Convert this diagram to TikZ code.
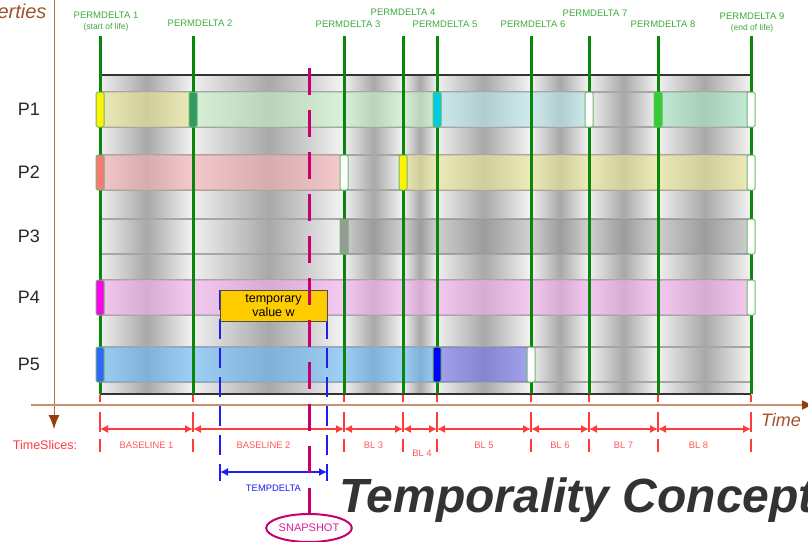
\documentclass[tikz,border=0pt]{standalone}
\usepackage{fontspec}
\setmainfont{Liberation Sans}
\usepackage{tikz}
\usetikzlibrary{calc}
\usetikzlibrary{arrows.meta}
\usetikzlibrary{shapes.geometric}
\tikzset{>=latex}

\definecolor{pdgreen}{RGB}{10,135,10}
\definecolor{pdtext}{RGB}{60,170,60}
\definecolor{markgreen}{RGB}{102,187,102}
\definecolor{slicered}{RGB}{255,60,60}
\definecolor{axistan}{RGB}{200,145,115}
\definecolor{axisbrown}{RGB}{190,110,70}
\definecolor{tipbrown}{RGB}{150,60,10}
\definecolor{labelbrown}{RGB}{160,82,45}
\definecolor{snapmag}{RGB}{200,0,110}
\definecolor{snaptext}{RGB}{215,30,150}
\definecolor{tempblue}{RGB}{30,30,240}
\definecolor{tmpgold}{RGB}{255,204,0}
\definecolor{titlegray}{RGB}{51,51,51}
% band colours
\definecolor{bkhaki}{RGB}{235,230,150}
\definecolor{bgreen}{RGB}{200,240,200}
\definecolor{bcyan}{RGB}{185,230,235}
\definecolor{bmint}{RGB}{165,230,195}
\definecolor{bpink}{RGB}{245,175,180}
\definecolor{bgray}{RGB}{130,130,130}
\definecolor{bmagenta}{RGB}{245,175,240}
\definecolor{bblue}{RGB}{100,185,245}
\definecolor{bperi}{RGB}{110,110,235}
% marker colours
\definecolor{mteal}{RGB}{51,153,102}
\definecolor{mcyan}{RGB}{0,204,230}
\definecolor{mlime}{RGB}{51,204,51}
\definecolor{msalmon}{RGB}{255,119,119}
\definecolor{mgray}{RGB}{153,153,153}
\definecolor{mmagenta}{RGB}{255,0,238}
\definecolor{mblue}{RGB}{51,102,255}
\definecolor{mdeep}{RGB}{0,0,255}

\tikzset{
  pdline/.style={pdgreen, line width=3pt},
  pdlabel/.style={text=pdtext, font=\fontsize{9.5}{11.5}\selectfont, align=center, inner sep=0pt},
  rowline/.style={gray!70, line width=1.2pt},
  band/.style={fill=#1, fill opacity=.6},
  marker/.style={draw=markgreen, line width=1pt, rounded corners=1.5pt, fill=#1,
    minimum width=8pt, minimum height=35pt, inner sep=0pt},
  proplabel/.style={text=black!85, font=\fontsize{18}{20}\selectfont},
  slicetick/.style={slicered, line width=1.2pt, dash pattern=on 7pt off 10pt on 20pt off 7pt on 13pt off 20pt},
  slicearrow/.style={slicered, line width=1.2pt, {Latex[length=8pt,width=8pt]}-{Latex[length=8pt,width=8pt]}},
  slicelabel/.style={text=slicered!85, font=\fontsize{9.4}{11}\selectfont},
  tempbox/.style={draw=black!70, line width=1pt, fill=tmpgold, minimum width=107pt,
    minimum height=31pt, inner sep=0pt, align=center, font=\fontsize{12.5}{14.5}\selectfont},
  tempdash/.style={tempblue, line width=1.2pt, dash pattern=on 20pt off 9pt},
  snapdash/.style={snapmag, line width=3pt, dash pattern=on 27pt off 15pt},
}

\begin{document}
\begin{tikzpicture}[x=1pt,y=-1pt]
\useasboundingbox (0,0) rectangle (808,541);

% permdelta positions
\foreach \x [count=\i] in {100,193,344,403,437,531,589,658,751}{
  \coordinate (pd\i) at (\x,36);
  \coordinate (pb\i) at (\x,394);
  \coordinate (ts\i) at (\x,429);
  \coordinate (tk\i) at (\x,395);
}
\foreach \r/\y in {1/109.5,2/172.5,3/236.5,4/297.5,5/364.5}
  \coordinate (row\r) at (0,\y);

% shaded panel
\foreach \a/\b in {100/193,193/344,344/403,403/437,437/531,531/589,589/658,658/751}
  \shade[left color=gray!12, right color=gray!8, middle color=gray!68] (\a,75) rectangle (\b,394);
\draw[black!80, line width=1.5pt] (100,75) -- (751,75);
\draw[black!80, line width=1.5pt] (100,394) -- (751,394);

% property rows
\foreach \t in {92,155,219,280,347}{
  \draw[rowline] (100,\t) -- (751,\t);
  \draw[rowline] (100,\t+35) -- (751,\t+35);
}
\fill[band=bkhaki] (100,92) rectangle (193,127);
\fill[band=bgreen] (193,92) rectangle (437,127);
\fill[band=bcyan] (437,92) rectangle (589,127);
\fill[band=bmint] (658,92) rectangle (751,127);
\fill[band=bpink] (100,155) rectangle (344,190);
\fill[band=bkhaki] (403,155) rectangle (751,190);
\fill[band=bgray, fill opacity=.3] (344,219) rectangle (751,254);
\fill[band=bmagenta] (100,280) rectangle (751,315);
\fill[band=bblue] (100,347) rectangle (437,382);
\fill[band=bperi] (437,347) rectangle (531,382);

% permdelta lines
\foreach \i in {1,...,9}
  \draw[pdline] (pd\i) -- (pb\i);

% value changes
\foreach \i/\r/\c in {1/1/yellow,2/1/mteal,5/1/mcyan,7/1/white,8/1/mlime,9/1/white,
                      1/2/msalmon,3/2/white,4/2/yellow,9/2/white,
                      3/3/mgray,9/3/white,
                      1/4/mmagenta,9/4/white,
                      1/5/mblue,5/5/mdeep,6/5/white}
  \node[marker=\c] (m\i\r) at (pd\i |- row\r) {};

% permdelta labels
\node[pdlabel] (pl1) at (106,21.5) {PERMDELTA 1\\{\fontsize{8.5}{10}\selectfont(start of life)}};
\node[pdlabel] (pl2) at (200,23) {PERMDELTA 2};
\node[pdlabel] (pl3) at (348,24) {PERMDELTA 3};
\node[pdlabel] (pl4) at (403,12) {PERMDELTA 4};
\node[pdlabel] (pl5) at (445,24) {PERMDELTA 5};
\node[pdlabel] (pl6) at (533,24) {PERMDELTA 6};
\node[pdlabel] (pl7) at (595,13) {PERMDELTA 7};
\node[pdlabel] (pl8) at (663,24) {PERMDELTA 8};
\node[pdlabel] (pl9) at (752,22.5) {PERMDELTA 9\\{\fontsize{8.5}{10}\selectfont(end of life)}};

% property names
\foreach \r in {1,...,5}
  \node[proplabel] (p\r) at (29,0 |- row\r) {P\r};

% axes
\coordinate (vtop) at (54,-2);
\coordinate (vbot) at (54,429);
\coordinate (hleft) at (31,405);
\coordinate (hright) at (814,405);
\draw[axisbrown, line width=1pt, -{Latex[length=14pt,width=11pt,color=tipbrown]}] (vtop) -- (vbot);
\draw[axistan, line width=2.2pt, -{Latex[length=12pt,width=10pt,color=tipbrown]}] (hleft) -- (hright);
\node[text=labelbrown, font=\itshape\fontsize{20}{22}\selectfont, anchor=east] (props) at (50,13) {Properties};
\node[text=labelbrown, font=\itshape\fontsize{18}{20}\selectfont] (time) at (781,420) {Time};

% time slices
\node[text=slicered, font=\fontsize{12.5}{14}\selectfont] (tsl) at (45,445) {TimeSlices:};
\foreach \i in {1,...,9}
  \draw[slicetick] (tk\i) -- ++(0,60);
\draw[slicearrow] (ts1) -- (ts2) node[midway, yshift=-16pt, slicelabel] {BASELINE 1};
\draw[slicearrow] (ts2) -- (ts3) node[midway, xshift=-5pt, yshift=-16pt, slicelabel] {BASELINE 2};
\draw[slicearrow] (ts3) -- (ts4) node[midway, yshift=-16pt, slicelabel] {BL 3};
\draw[slicearrow] (ts4) -- (ts5) node[midway, xshift=2pt, yshift=-24pt, slicelabel] {BL 4};
\draw[slicearrow] (ts5) -- (ts6) node[midway, yshift=-16pt, slicelabel] {BL 5};
\draw[slicearrow] (ts6) -- (ts7) node[midway, yshift=-16pt, slicelabel] {BL 6};
\draw[slicearrow] (ts7) -- (ts8) node[midway, yshift=-16pt, slicelabel] {BL 7};
\draw[slicearrow] (ts8) -- (ts9) node[midway, xshift=-6pt, yshift=-16pt, slicelabel] {BL 8};

% temporary value
\coordinate (td1) at (220,472);
\coordinate (td2) at (327,472);
\draw[tempdash] (220,290) -- (220,481);
\draw[tempdash] (327,290) -- (327,481);
\node[tempbox] (tmp) at (273.5,305.5) {temporary\\value w};
\draw[tempblue, line width=1.2pt, {Latex[length=8pt,width=8pt]}-{Latex[length=8pt,width=8pt]}] (td1) -- (td2)
  node[midway, yshift=-16pt, text=tempblue, font=\fontsize{9.4}{11}\selectfont] {TEMPDELTA};

% snapshot
\node[ellipse, draw=snapmag, line width=2pt, minimum width=84pt, minimum height=28pt, inner sep=0pt,
  text=snaptext, font=\fontsize{11}{13}\selectfont] (snap) at (309,528) {SNAPSHOT};
\coordinate (snaptop) at (309,68);
\draw[snapdash] (snaptop) -- (snap.north);

% title
\node[anchor=base west, inner sep=0pt, text=titlegray, font=\bfseries\itshape\fontsize{48}{50}\selectfont] (title) at (339,512) {Temporality Concept};
\end{tikzpicture}
\end{document}
